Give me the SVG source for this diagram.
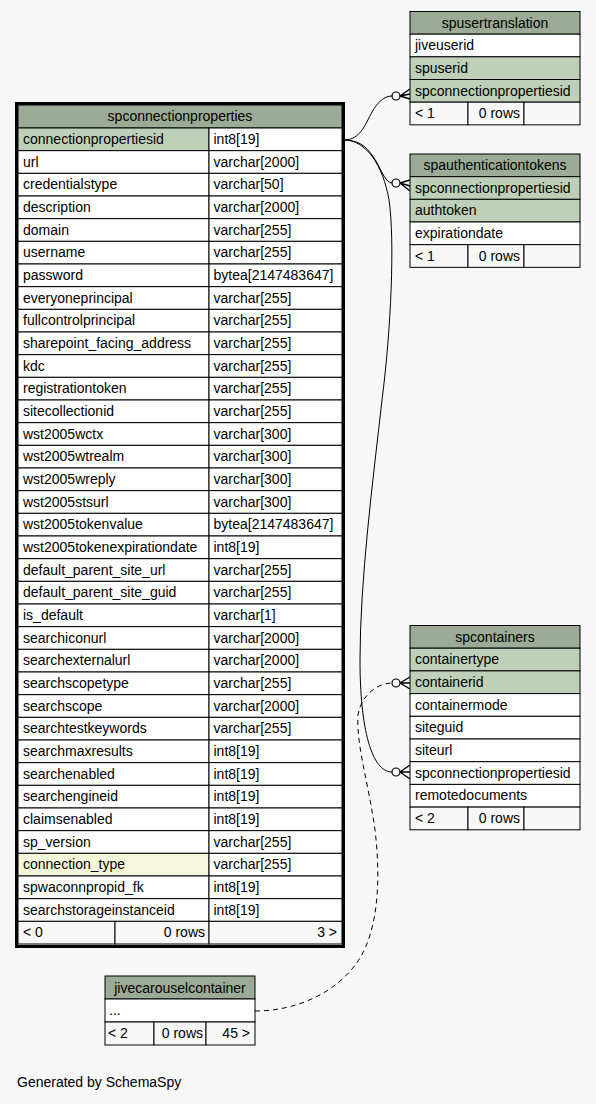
<svg xmlns="http://www.w3.org/2000/svg" width="596" height="1104" viewBox="0 0 596 1104">
<style>
.c{stroke:#000;stroke-width:1}
.h{fill:#9bab96}
.pk{fill:#bed1b8}
.ix{fill:#f4f7da}
.b{fill:#fff}
.f{fill:#f7f7f7}
text{font-family:"Liberation Sans",Arial,Helvetica,sans-serif;font-size:14px;fill:#000}
.m{text-anchor:middle}
.r{text-anchor:end}
.e{fill:none;stroke:#000;stroke-width:1}
.d{stroke-dasharray:5,4}
.o{fill:#f7f7f7;stroke:#000;stroke-width:1.2}
.cr{fill:none;stroke:#000;stroke-width:1.4}
</style>
<rect width="596" height="1104" fill="#f7f7f7"/>

<g id="connectors">
<path class="e" d="M344,140 C360,140 365,125 372,112 C378,102 384,96 392,96"/>
<circle class="o" cx="396" cy="96" r="4"/>
<path class="cr" d="M400,96 L410,89 M400,96 L410,94 M400,96 L410,99"/>

<path class="e" d="M344,140 C362,140 369,150 376,161 C382,172 386,183 392,183"/>
<circle class="o" cx="396" cy="183" r="4"/>
<path class="cr" d="M400,183 L410,180 M400,183 L410,186 M400,183 L410,191"/>

<path class="e" d="M344,140 C366,140 383,165 389,200 C395,240 391,330 382,400 C373,480 360,580 360,660 C360,730 372,772 392,772"/>
<circle class="o" cx="396" cy="772" r="4"/>
<path class="cr" d="M400,772 L410,765 M400,772 L410,772 M400,772 L410,779"/>

<path class="e d" d="M255,1011 C300,1011 340,990 360,958 C378,928 381,880 375,830 C369,785 356,745 358,715 C361,695 378,683 392,683"/>
<circle class="o" cx="396" cy="683" r="4"/>
<path class="cr" d="M400,683 L410,677 M400,683 L410,683 M400,683 L410,689"/>
</g>

<g id="spconnectionproperties">
<rect x="16.5" y="103.5" width="327" height="843" fill="none" stroke="#000" stroke-width="3"/>
<rect class="c h" x="18" y="105" width="324" height="23"/>
<text class="m" x="180" y="121">spconnectionproperties</text>
<g transform="translate(0,128)"><rect class="c pk" x="18" width="191" height="22.67"/><rect class="c b" x="209" width="133" height="22.67"/><text x="23" y="16">connectionpropertiesid</text><text x="213.5" y="16">int8[19]</text></g>
<g transform="translate(0,150.67)"><rect class="c b" x="18" width="191" height="22.67"/><rect class="c b" x="209" width="133" height="22.67"/><text x="23" y="16">url</text><text x="213.5" y="16">varchar[2000]</text></g>
<g transform="translate(0,173.33)"><rect class="c b" x="18" width="191" height="22.67"/><rect class="c b" x="209" width="133" height="22.67"/><text x="23" y="16">credentialstype</text><text x="213.5" y="16">varchar[50]</text></g>
<g transform="translate(0,196)"><rect class="c b" x="18" width="191" height="22.67"/><rect class="c b" x="209" width="133" height="22.67"/><text x="23" y="16">description</text><text x="213.5" y="16">varchar[2000]</text></g>
<g transform="translate(0,218.67)"><rect class="c b" x="18" width="191" height="22.67"/><rect class="c b" x="209" width="133" height="22.67"/><text x="23" y="16">domain</text><text x="213.5" y="16">varchar[255]</text></g>
<g transform="translate(0,241.33)"><rect class="c b" x="18" width="191" height="22.67"/><rect class="c b" x="209" width="133" height="22.67"/><text x="23" y="16">username</text><text x="213.5" y="16">varchar[255]</text></g>
<g transform="translate(0,264)"><rect class="c b" x="18" width="191" height="22.67"/><rect class="c b" x="209" width="133" height="22.67"/><text x="23" y="16">password</text><text x="213.5" y="16">bytea[2147483647]</text></g>
<g transform="translate(0,286.67)"><rect class="c b" x="18" width="191" height="22.67"/><rect class="c b" x="209" width="133" height="22.67"/><text x="23" y="16">everyoneprincipal</text><text x="213.5" y="16">varchar[255]</text></g>
<g transform="translate(0,309.33)"><rect class="c b" x="18" width="191" height="22.67"/><rect class="c b" x="209" width="133" height="22.67"/><text x="23" y="16">fullcontrolprincipal</text><text x="213.5" y="16">varchar[255]</text></g>
<g transform="translate(0,332)"><rect class="c b" x="18" width="191" height="22.67"/><rect class="c b" x="209" width="133" height="22.67"/><text x="23" y="16">sharepoint_facing_address</text><text x="213.5" y="16">varchar[255]</text></g>
<g transform="translate(0,354.67)"><rect class="c b" x="18" width="191" height="22.67"/><rect class="c b" x="209" width="133" height="22.67"/><text x="23" y="16">kdc</text><text x="213.5" y="16">varchar[255]</text></g>
<g transform="translate(0,377.33)"><rect class="c b" x="18" width="191" height="22.67"/><rect class="c b" x="209" width="133" height="22.67"/><text x="23" y="16">registrationtoken</text><text x="213.5" y="16">varchar[255]</text></g>
<g transform="translate(0,400)"><rect class="c b" x="18" width="191" height="22.67"/><rect class="c b" x="209" width="133" height="22.67"/><text x="23" y="16">sitecollectionid</text><text x="213.5" y="16">varchar[255]</text></g>
<g transform="translate(0,422.67)"><rect class="c b" x="18" width="191" height="22.67"/><rect class="c b" x="209" width="133" height="22.67"/><text x="23" y="16">wst2005wctx</text><text x="213.5" y="16">varchar[300]</text></g>
<g transform="translate(0,445.33)"><rect class="c b" x="18" width="191" height="22.67"/><rect class="c b" x="209" width="133" height="22.67"/><text x="23" y="16">wst2005wtrealm</text><text x="213.5" y="16">varchar[300]</text></g>
<g transform="translate(0,468)"><rect class="c b" x="18" width="191" height="22.67"/><rect class="c b" x="209" width="133" height="22.67"/><text x="23" y="16">wst2005wreply</text><text x="213.5" y="16">varchar[300]</text></g>
<g transform="translate(0,490.67)"><rect class="c b" x="18" width="191" height="22.67"/><rect class="c b" x="209" width="133" height="22.67"/><text x="23" y="16">wst2005stsurl</text><text x="213.5" y="16">varchar[300]</text></g>
<g transform="translate(0,513.33)"><rect class="c b" x="18" width="191" height="22.67"/><rect class="c b" x="209" width="133" height="22.67"/><text x="23" y="16">wst2005tokenvalue</text><text x="213.5" y="16">bytea[2147483647]</text></g>
<g transform="translate(0,536)"><rect class="c b" x="18" width="191" height="22.67"/><rect class="c b" x="209" width="133" height="22.67"/><text x="23" y="16">wst2005tokenexpirationdate</text><text x="213.5" y="16">int8[19]</text></g>
<g transform="translate(0,558.67)"><rect class="c b" x="18" width="191" height="22.67"/><rect class="c b" x="209" width="133" height="22.67"/><text x="23" y="16">default_parent_site_url</text><text x="213.5" y="16">varchar[255]</text></g>
<g transform="translate(0,581.33)"><rect class="c b" x="18" width="191" height="22.67"/><rect class="c b" x="209" width="133" height="22.67"/><text x="23" y="16">default_parent_site_guid</text><text x="213.5" y="16">varchar[255]</text></g>
<g transform="translate(0,604)"><rect class="c b" x="18" width="191" height="22.67"/><rect class="c b" x="209" width="133" height="22.67"/><text x="23" y="16">is_default</text><text x="213.5" y="16">varchar[1]</text></g>
<g transform="translate(0,626.67)"><rect class="c b" x="18" width="191" height="22.67"/><rect class="c b" x="209" width="133" height="22.67"/><text x="23" y="16">searchiconurl</text><text x="213.5" y="16">varchar[2000]</text></g>
<g transform="translate(0,649.33)"><rect class="c b" x="18" width="191" height="22.67"/><rect class="c b" x="209" width="133" height="22.67"/><text x="23" y="16">searchexternalurl</text><text x="213.5" y="16">varchar[2000]</text></g>
<g transform="translate(0,672)"><rect class="c b" x="18" width="191" height="22.67"/><rect class="c b" x="209" width="133" height="22.67"/><text x="23" y="16">searchscopetype</text><text x="213.5" y="16">varchar[255]</text></g>
<g transform="translate(0,694.67)"><rect class="c b" x="18" width="191" height="22.67"/><rect class="c b" x="209" width="133" height="22.67"/><text x="23" y="16">searchscope</text><text x="213.5" y="16">varchar[2000]</text></g>
<g transform="translate(0,717.33)"><rect class="c b" x="18" width="191" height="22.67"/><rect class="c b" x="209" width="133" height="22.67"/><text x="23" y="16">searchtestkeywords</text><text x="213.5" y="16">varchar[255]</text></g>
<g transform="translate(0,740)"><rect class="c b" x="18" width="191" height="22.67"/><rect class="c b" x="209" width="133" height="22.67"/><text x="23" y="16">searchmaxresults</text><text x="213.5" y="16">int8[19]</text></g>
<g transform="translate(0,762.67)"><rect class="c b" x="18" width="191" height="22.67"/><rect class="c b" x="209" width="133" height="22.67"/><text x="23" y="16">searchenabled</text><text x="213.5" y="16">int8[19]</text></g>
<g transform="translate(0,785.33)"><rect class="c b" x="18" width="191" height="22.67"/><rect class="c b" x="209" width="133" height="22.67"/><text x="23" y="16">searchengineid</text><text x="213.5" y="16">int8[19]</text></g>
<g transform="translate(0,808)"><rect class="c b" x="18" width="191" height="22.67"/><rect class="c b" x="209" width="133" height="22.67"/><text x="23" y="16">claimsenabled</text><text x="213.5" y="16">int8[19]</text></g>
<g transform="translate(0,830.67)"><rect class="c b" x="18" width="191" height="22.67"/><rect class="c b" x="209" width="133" height="22.67"/><text x="23" y="16">sp_version</text><text x="213.5" y="16">varchar[255]</text></g>
<g transform="translate(0,853.33)"><rect class="c ix" x="18" width="191" height="22.67"/><rect class="c b" x="209" width="133" height="22.67"/><text x="23" y="16">connection_type</text><text x="213.5" y="16">varchar[255]</text></g>
<g transform="translate(0,876)"><rect class="c b" x="18" width="191" height="22.67"/><rect class="c b" x="209" width="133" height="22.67"/><text x="23" y="16">spwaconnpropid_fk</text><text x="213.5" y="16">int8[19]</text></g>
<g transform="translate(0,898.67)"><rect class="c b" x="18" width="191" height="22.67"/><rect class="c b" x="209" width="133" height="22.67"/><text x="23" y="16">searchstorageinstanceid</text><text x="213.5" y="16">int8[19]</text></g>
<g transform="translate(0,921.33)"><rect class="c f" x="18" width="97" height="22.67"/><rect class="c f" x="115" width="94" height="22.67"/><rect class="c f" x="209" width="133" height="22.67"/><text x="23" y="16">&lt; 0</text><text class="r" x="205" y="16">0 rows</text><text class="r" x="337" y="16">3 &gt;</text></g>
</g>

<g id="spusertranslation" transform="translate(410,11.5)">
<rect class="c h" width="170" height="22.67"/><text class="m" x="85" y="16">spusertranslation</text>
<rect class="c b" y="22.67" width="170" height="22.67"/><text x="5" y="38.67">jiveuserid</text>
<rect class="c pk" y="45.33" width="170" height="22.67"/><text x="5" y="61.33">spuserid</text>
<rect class="c pk" y="68" width="170" height="22.67"/><text x="5" y="84">spconnectionpropertiesid</text>
<rect class="c f" y="90.67" width="58" height="22.67"/><rect class="c f" x="58" y="90.67" width="56" height="22.67"/><rect class="c f" x="114" y="90.67" width="56" height="22.67"/>
<text x="5" y="106.67">&lt; 1</text><text class="r" x="110" y="106.67">0 rows</text>
</g>

<g id="spauthenticationtokens" transform="translate(410,154)">
<rect class="c h" width="170" height="22.67"/><text class="m" x="85" y="16">spauthenticationtokens</text>
<rect class="c pk" y="22.67" width="170" height="22.67"/><text x="5" y="38.67">spconnectionpropertiesid</text>
<rect class="c pk" y="45.33" width="170" height="22.67"/><text x="5" y="61.33">authtoken</text>
<rect class="c b" y="68" width="170" height="22.67"/><text x="5" y="84">expirationdate</text>
<rect class="c f" y="90.67" width="58" height="22.67"/><rect class="c f" x="58" y="90.67" width="56" height="22.67"/><rect class="c f" x="114" y="90.67" width="56" height="22.67"/>
<text x="5" y="106.67">&lt; 1</text><text class="r" x="110" y="106.67">0 rows</text>
</g>

<g id="spcontainers" transform="translate(410,625.5)">
<rect class="c h" width="170" height="22.7"/><text class="m" x="85" y="16">spcontainers</text>
<rect class="c pk" y="22.7" width="170" height="22.7"/><text x="5" y="38.7">containertype</text>
<rect class="c pk" y="45.4" width="170" height="22.7"/><text x="5" y="61.4">containerid</text>
<rect class="c b" y="68.1" width="170" height="22.7"/><text x="5" y="84.1">containermode</text>
<rect class="c b" y="90.8" width="170" height="22.7"/><text x="5" y="106.8">siteguid</text>
<rect class="c b" y="113.5" width="170" height="22.7"/><text x="5" y="129.5">siteurl</text>
<rect class="c b" y="136.2" width="170" height="22.7"/><text x="5" y="152.2">spconnectionpropertiesid</text>
<rect class="c b" y="158.9" width="170" height="22.7"/><text x="5" y="174.9">remotedocuments</text>
<rect class="c f" y="181.6" width="58" height="22.7"/><rect class="c f" x="58" y="181.6" width="56" height="22.7"/><rect class="c f" x="114" y="181.6" width="56" height="22.7"/>
<text x="5" y="197.6">&lt; 2</text><text class="r" x="110" y="197.6">0 rows</text>
</g>

<g id="jivecarouselcontainer" transform="translate(105,976)">
<rect class="c h" width="150" height="23"/><text class="m" x="75" y="16.5">jivecarouselcontainer</text>
<rect class="c b" y="23" width="150" height="23"/><text x="4" y="39">...</text>
<rect class="c f" y="46" width="49" height="23"/><rect class="c f" x="49" y="46" width="52" height="23"/><rect class="c f" x="101" y="46" width="49" height="23"/>
<text x="3" y="62">&lt; 2</text><text class="r" x="98" y="62">0 rows</text><text class="r" x="145" y="62">45 &gt;</text>
</g>

<text x="17" y="1087">Generated by SchemaSpy</text>
</svg>
